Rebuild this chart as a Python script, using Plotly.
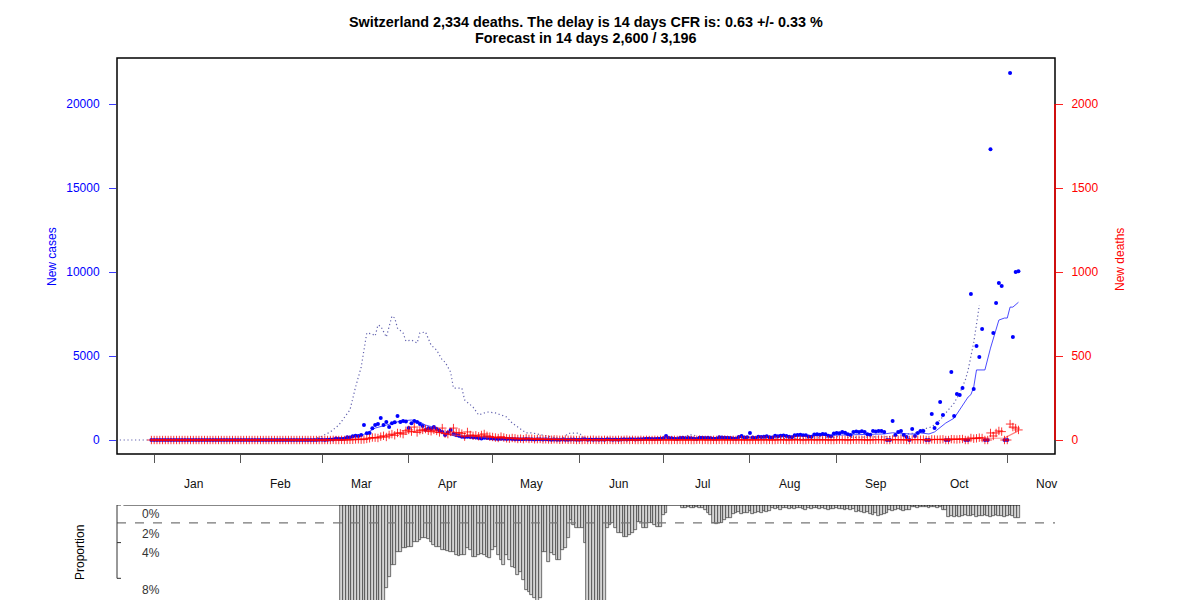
import pandas as pd
import plotly.graph_objects as go

# ---------------- data ----------------
first_day = "2019-12-31"

# daily new cases, Dec 31 2019 .. Nov 5 2020
new_cases = [
    0,
    0,0,0,0,0,0,0,0,0,0, 0,0,0,0,0,0,0,0,0,0, 0,0,0,0,0,0,0,0,0,0, 0,
    0,0,0,0,0,0,0,0,0,0, 0,0,0,0,0,0,0,0,0,0, 0,0,0,0,1,0,7,0,10,
    18,0,14,32,30,86,54,56,68,160, 150,220,260,240,300,890,400,420,700,890, 950,1310,890,1070,770,1000,1050,1430,1070,1130, 1100,
    710,1000,1130,1070,950,830,600,700,650,770, 650,550,480,300,450,600,360,300,250,200, 180,200,180,170,150,120,90,130,120,100,
    90,80,60,70,80,60,70,60,50,40, 50,40,60,50,40,30,50,40,30,40, 30,20,30,20,20,30,20,20,30,30, 20,
    20,30,40,20,30,20,30,20,30,20, 40,30,20,30,20,30,40,30,50,40, 30,40,50,60,80,70,60,60,70,80,
    110,240,120,100,80,60,120,130,110,120, 100,70,60,130,140,120,130,100,80,70, 160,150,140,130,120,90,80,180,240,150, 160,
    420,150,120,200,180,190,220,170,150,250, 230,260,270,240,190,170,280,300,310,290, 280,210,200,330,350,310,360,340,260,230, 380,
    420,400,480,430,350,300,480,500,470,520, 480,350,320,540,500,540,540,480,0,0, 1130,300,480,540,300,180,0,650,240,420,
    540,540,0,0,1550,710,1000,2260,1490,0, 0,4050,1430,2740,2680,3090,0,0,8690,3030, 5590,4940,6600,0,0,17300,6370,8150,9340,9160, 0,
    0,21840,6130,10000,10050,
]

# daily new deaths, same days
new_deaths = [
    0,
    0,0,0,0,0,0,0,0,0,0, 0,0,0,0,0,0,0,0,0,0, 0,0,0,0,0,0,0,0,0,0, 0,
    0,0,0,0,0,0,0,0,0,0, 0,0,0,0,0,0,0,0,0,0, 0,0,0,0,0,0,0,0,0,
    0,0,0,0,1,0,0,1,0,1, 1,1,3,4,2,3,6,10,15,14, 12,20,25,18,30,35,28,42,40,35, 55,
    60,50,77,45,58,60,65,55,52,60, 54,45,71,38,35,48,71,42,45,38, 20,48,30,25,28,22,30,36,25,20,
    18,15,12,20,15,10,8,12,10,6, 8,5,10,6,8,4,5,6,3,4, 3,2,4,3,1,2,3,1,2,1, 0,
    1,0,1,0,1,2,0,1,0,1, 0,1,0,0,1,0,1,2,0,1, 0,0,1,0,1,0,0,1,0,1,
    0,1,0,0,1,0,1,0,0,1, 0,0,1,2,0,1,0,0,1,0, 1,0,2,0,0,1,0,1,0,1, 0,
    0,1,0,1,0,2,0,1,0,0, 1,2,1,0,0,1,2,1,1,0, 0,2,1,1,0,1,2,0,1,0, 0,
    1,2,1,1,0,0,2,1,2,1, 1,0,0,2,1,3,2,1,0,0, 3,2,1,2,1,0,0,3,2,2,
    2,3,0,0,4,3,2,3,4,0, 0,5,4,3,5,6,0,0,12,8, 10,14,12,0,0,42,24,42,54,50, 0,
    0,95,77,71,60,
]

# smoothed new cases (solid blue line)
smooth_cases_dates = [
    "2019-12-31", "2020-02-24", "2020-02-29", "2020-03-06", "2020-03-11", "2020-03-15",
    "2020-03-17", "2020-03-20", "2020-03-24", "2020-03-27", "2020-03-29", "2020-04-02",
    "2020-04-05", "2020-04-07", "2020-04-11", "2020-04-13", "2020-04-16", "2020-04-19",
    "2020-04-29", "2020-05-14", "2020-05-29", "2020-06-13", "2020-06-28", "2020-07-13",
    "2020-07-28", "2020-08-07", "2020-08-17", "2020-08-27", "2020-09-06", "2020-09-14",
    "2020-09-18", "2020-09-21", "2020-09-24", "2020-09-28", "2020-10-01", "2020-10-04",
    "2020-10-06", "2020-10-08", "2020-10-10", "2020-10-13", "2020-10-15", "2020-10-18",
    "2020-10-19", "2020-10-20", "2020-10-21", "2020-10-24", "2020-10-26", "2020-10-28",
    "2020-10-29", "2020-10-31", "2020-11-01", "2020-11-02", "2020-11-03", "2020-11-05",
]
smooth_cases = [
    0, 0, 20, 100, 180, 240,
    420, 710, 890, 1010, 1130, 1190,
    1070, 890, 710, 480, 300, 180,
    130, 80, 40, 60, 100, 130,
    150, 180, 230, 270, 300, 380,
    360, 430, 380, 350, 420, 360,
    480, 770, 1010, 1300, 1800, 2560,
    2700, 3150, 4170, 4170, 5470, 6550,
    7140, 7260, 7260, 7910, 7910, 8200,
]

# smoothed new deaths (solid light-red line)
smooth_deaths_dates = [
    "2019-12-31", "2020-03-08", "2020-03-12", "2020-03-17", "2020-03-24", "2020-03-28",
    "2020-04-01", "2020-04-06", "2020-04-09", "2020-04-13", "2020-04-16", "2020-04-21",
    "2020-04-28", "2020-05-07", "2020-05-19", "2020-06-03", "2020-06-18", "2020-07-18",
    "2020-08-17", "2020-09-16", "2020-10-06", "2020-10-16", "2020-10-24", "2020-10-31",
    "2020-11-05",
]
smooth_deaths = [
    0, 0, 5, 12, 18, 42,
    48, 54, 48, 42, 30, 24,
    18, 12, 6, 2, 1, 1,
    1, 2, 4, 8, 10, 12,
    55,
]

# deaths 14 days ahead divided by CFR (dotted line)
implied_dates = [
    "2019-12-17", "2020-02-25", "2020-02-29", "2020-03-04", "2020-03-07", "2020-03-11",
    "2020-03-13", "2020-03-15", "2020-03-17", "2020-03-19", "2020-03-20", "2020-03-21",
    "2020-03-22", "2020-03-24", "2020-03-26", "2020-03-27", "2020-03-28", "2020-03-30",
    "2020-03-31", "2020-04-02", "2020-04-04", "2020-04-05", "2020-04-07", "2020-04-09",
    "2020-04-11", "2020-04-13", "2020-04-14", "2020-04-16", "2020-04-17", "2020-04-20",
    "2020-04-21", "2020-04-24", "2020-04-26", "2020-04-29", "2020-05-02", "2020-05-06",
    "2020-05-08", "2020-05-13", "2020-05-15", "2020-05-19", "2020-05-24", "2020-05-26",
    "2020-05-28", "2020-05-30", "2020-06-01", "2020-06-03", "2020-06-20", "2020-07-08",
    "2020-07-10", "2020-07-12", "2020-07-14", "2020-08-01", "2020-08-20", "2020-09-01",
    "2020-09-03", "2020-09-05", "2020-09-20", "2020-09-29", "2020-10-01", "2020-10-05",
    "2020-10-08", "2020-10-10", "2020-10-13", "2020-10-15", "2020-10-17", "2020-10-18",
    "2020-10-19", "2020-10-20", "2020-10-21", "2020-10-22",
]
implied_cases = [
    0, 0, 150, 480, 890, 1790,
    3150, 4340, 6370, 6310, 6190, 6840,
    6780, 6130, 7380, 7260, 6660, 6370,
    5890, 5950, 5770, 6370, 6430, 5650,
    5350, 4760, 4640, 4040, 3090, 3090,
    2380, 1960, 1490, 1670, 1610, 1370,
    1010, 420, 420, 300, 120, 60,
    400, 420, 410, 60, 30, 40,
    300, 300, 40, 60, 100, 150,
    500, 150, 200, 420, 600, 780,
    1190, 1610, 2200, 2800, 3570, 4165,
    4940, 5800, 6900, 8030,
]

# lower panel: daily proportion (bars), Mar 8 .. Nov 5 2020
proportion_start = "2020-03-08"
proportion_pct = [
    20,18,25,15,14,16,13,12,14,12,11.5,12,13,11,12,11, 8.8,7.7,6.4,6.4,5.0,5.0,4.6,4.6,
    4.5,4.5,3.9,3.9,3.7,3.5,3.5,3.6,3.9,4.3, 4.5,4.5,4.8,4.8,4.9,5.0,5.0,5.3,5.4,5.3, 5.3,4.6,4.8,5.5,5.5,5.3,5.2,5.3,5.5,5.6,
    4.8,4.5,5.3,5.9,6.4,5.3,5.9,6.6,6.7,7.4, 7.1,8.0,9.0,9.3,9.6,9.9,10.2,9.9,5.0,5.0, 6.1,5.1,5.3,5.9,5.9,4.8,4.6,3.5,1.6,2.1, 2.4,
    2.4,2.4,4.0,12,15,11,14,13,18,12, 2.4,2.1,1.9,2.4,3.0,3.0,3.4,3.4,3.2,3.0, 2.7,1.8,1.8,2.4,2.4,1.9,1.9,2.1,2.3,2.3,
    1.1,0.9,0,0,0,0,0,0.3,0.3,0.2, 0.3,0.3,0.2,0.3,0.3,0.5,0.9,1.1,1.9,2.0, 1.9,1.9,1.6,1.4,1.4,1.0,0.9,0.7,1.0,0.8, 0.9,
    0.6,1.0,0.9,0.7,0.8,0.6,0.7,0.6, 0.3,0.4,0.3,0.5,0.3,0.3,0.4,0.3,0.4,0.3, 0.3,0.4,0.5,0.3,0.4,0.3,0.3,0.4,0.3,0.4, 0.5,0.4,0.4,
    0.3,0.4, 0.4,0.5,0.4,0.5,0.4, 0.7,0.6,0.7,0.8,0.7, 1.0,1.1,0.9,1.2,1.1,1.0,0.9, 0.5,0.6,0.5,0.4,0.5,0.6,0.5,0.5, 0.2,0.2,0.3,
    0.2,0.2,0.2,0.3,0.2,0.2,0.3,0.2, 0.5,0.5, 1.3,1.2,1.3,1.2,1.3, 1.2,1.1,1.2,1.2,1.1,1.3,1.2,1.2,1.1,1.2,1.3,1.2,1.1,1.2,1.2,1.3,
    1.2,1.1,1.2,1.4,1.4,
]
proportion_ref = 1.9          # dashed reference level
proportion_line_start = "2019-12-21"

title_line1 = "Switzerland 2,334 deaths. The delay is 14 days CFR is: 0.63 +/- 0.33 %"
title_line2 = "Forecast in 14 days 2,600 / 3,196"

month_starts = ["2020-%02d-01" % m for m in range(1, 12)]
month_mids = ["2020-%02d-15" % m for m in range(1, 12)]
month_labels = ["Jan", "Feb", "Mar", "Apr", "May", "Jun", "Jul", "Aug", "Sep", "Oct", "Nov"]

case_ticks = [0, 5000, 10000, 15000, 20000]
death_ticks = [0, 500, 1000, 1500, 2000]
prop_labels = ["0%", "2%", "4%", "8%"]
prop_label_pos = [0.96, 3.09, 5.1, 9.04]
prop_tick_pos = [0, 4.0, 7.8]

# ---------------- figure ----------------
W, H = 1200, 600
OFF = 8                      # page body margin of the browser
L, R, T, B = 117, 1055, 58, 454
px = lambda v: (v - OFF) / W
py = lambda v: (H - (v - OFF)) / H

days = pd.date_range(first_day, periods=len(new_cases), freq="D")
days_d = pd.date_range(first_day, periods=len(new_deaths), freq="D")
prop_days = pd.date_range(proportion_start, periods=len(proportion_pct), freq="D")

xrange_ = ["2019-12-18 17:00", "2020-11-18 01:30"]
FONT = "Liberation Sans, Arial, Helvetica, sans-serif"

fig = go.Figure()

fig.add_trace(go.Scatter(x=implied_dates, y=implied_cases, mode="lines",
                         line=dict(color="rgba(70,70,160,0.85)", width=1.2, dash="1.2px,2.6px"),
                         xaxis="x", yaxis="y", showlegend=False))
fig.add_trace(go.Scatter(x=smooth_cases_dates, y=smooth_cases, mode="lines",
                         line=dict(color="rgba(30,30,255,0.8)", width=1),
                         xaxis="x", yaxis="y", showlegend=False))
fig.add_trace(go.Scatter(x=days, y=new_cases, mode="markers",
                         marker=dict(color="#0000ff", size=4, line=dict(width=0)),
                         xaxis="x", yaxis="y", showlegend=False))
fig.add_trace(go.Scatter(x=smooth_deaths_dates, y=smooth_deaths, mode="lines",
                         line=dict(color="rgba(255,80,80,0.75)", width=1.2),
                         xaxis="x", yaxis="y2", showlegend=False))
fig.add_trace(go.Scatter(x=days_d, y=new_deaths, mode="markers",
                         marker=dict(symbol="cross-thin", size=6, color="rgba(255,0,0,0.8)",
                                     line=dict(color="rgba(255,0,0,0.8)", width=1)),
                         xaxis="x", yaxis="y2", showlegend=False))

fig.add_trace(go.Bar(x=prop_days, y=proportion_pct, width=86400000,
                     marker=dict(color="#d4d4d4", line=dict(color="#3a3a3a", width=0.7)),
                     xaxis="x2", yaxis="y3", showlegend=False))

fig.update_layout(
    width=W, height=H, margin=dict(l=0, r=0, t=0, b=0),
    paper_bgcolor="white", plot_bgcolor="white",
    font=dict(family=FONT, size=12, color="#000"),
    bargap=0,
    xaxis=dict(domain=[px(L), px(R)], range=xrange_, type="date", anchor="y",
               tickvals=month_starts, showticklabels=False, ticks="outside",
               ticklen=8, tickcolor="#555", tickwidth=1,
               showgrid=False, zeroline=False, showline=False),
    yaxis=dict(domain=[py(B), py(T)], range=[-833, 22738], anchor="x",
               tickvals=case_ticks, ticktext=[str(v) for v in case_ticks],
               ticks="outside", ticklen=7, tickcolor="#3c3cff",
               tickfont=dict(color="#0000ff", size=12, family=FONT), ticklabelstandoff=7,
               showgrid=False, zeroline=False, showline=False, automargin=False),
    yaxis2=dict(overlaying="y", side="right", anchor="x", range=[-83.3, 2273.8],
                tickvals=death_ticks, ticktext=[str(v) for v in death_ticks],
                ticks="outside", ticklen=7, tickcolor="#ff2020",
                tickfont=dict(color="#ff0000", size=12, family=FONT), ticklabelstandoff=6,
                showgrid=False, zeroline=False, showline=False, automargin=False),
    xaxis2=dict(domain=[px(L), px(R)], range=xrange_, type="date", anchor="y3",
                visible=False),
    yaxis3=dict(domain=[py(600), py(505)], range=[95 / 9.4, 0], anchor="x2", visible=False),
)

shapes = [
    dict(type="rect", xref="paper", yref="paper", x0=px(L), x1=px(R), y0=py(B), y1=py(T),
         line=dict(color="black", width=1.5), layer="above"),
    dict(type="line", xref="paper", yref="y2", x0=px(R), x1=px(R), y0=0, y1=2000,
         line=dict(color="#ff0000", width=1.5)),
    dict(type="line", xref="x2", yref="y3", x0=proportion_line_start, x1="2020-11-05 12:00",
         y0=0, y1=0, line=dict(color="#111", width=1)),
    dict(type="line", xref="paper", yref="y3", x0=px(L), x1=px(R), y0=proportion_ref,
         y1=proportion_ref, line=dict(color="#777", width=1.4, dash="dash")),
    dict(type="line", xref="paper", yref="y3", x0=px(L), x1=px(L), y0=prop_tick_pos[0],
         y1=prop_tick_pos[-1], line=dict(color="#333", width=1)),
]
for tp in prop_tick_pos:
    shapes.append(dict(type="line", xref="paper", yref="y3", x0=px(L), x1=px(L + 4),
                       y0=tp, y1=tp, line=dict(color="#333", width=1)))
fig.update_layout(shapes=shapes)

ann = [
    dict(text="<b>%s</b>" % title_line1, x=px(586), y=py(22), xref="paper", yref="paper",
         showarrow=False, font=dict(size=14.4, family=FONT), xanchor="center", yanchor="middle"),
    dict(text="<b>%s</b>" % title_line2, x=px(586), y=py(38), xref="paper", yref="paper",
         showarrow=False, font=dict(size=14.4, family=FONT), xanchor="center", yanchor="middle"),
    dict(text="New cases", x=px(52), y=py(257), xref="paper", yref="paper", textangle=-90,
         xanchor="center", yanchor="middle",
         showarrow=False, font=dict(size=12, color="#0000ff", family=FONT)),
    dict(text="New deaths", x=px(1120), y=py(260), xref="paper", yref="paper", textangle=-90,
         xanchor="center", yanchor="middle",
         showarrow=False, font=dict(size=12, color="#ff0000", family=FONT)),
    dict(text="Proportion", x=px(80), y=py(553), xref="paper", yref="paper", textangle=-90,
         xanchor="center", yanchor="middle",
         showarrow=False, font=dict(size=12, color="#000", family=FONT)),
]
for d, lab in zip(month_mids, month_labels):
    ann.append(dict(text=lab, x=d, y=py(484), xref="x", yref="paper", showarrow=False,
                    font=dict(size=12, color="#111", family=FONT), xanchor="center",
                    yanchor="middle"))
for lab, pos in zip(prop_labels, prop_label_pos):
    ann.append(dict(text=lab, x=px(140), y=pos, xref="paper", yref="y3", showarrow=False,
                    font=dict(size=12, color="#333", family=FONT), xanchor="left",
                    yanchor="middle"))
fig.update_layout(annotations=ann)

fig.write_html("out.html")
